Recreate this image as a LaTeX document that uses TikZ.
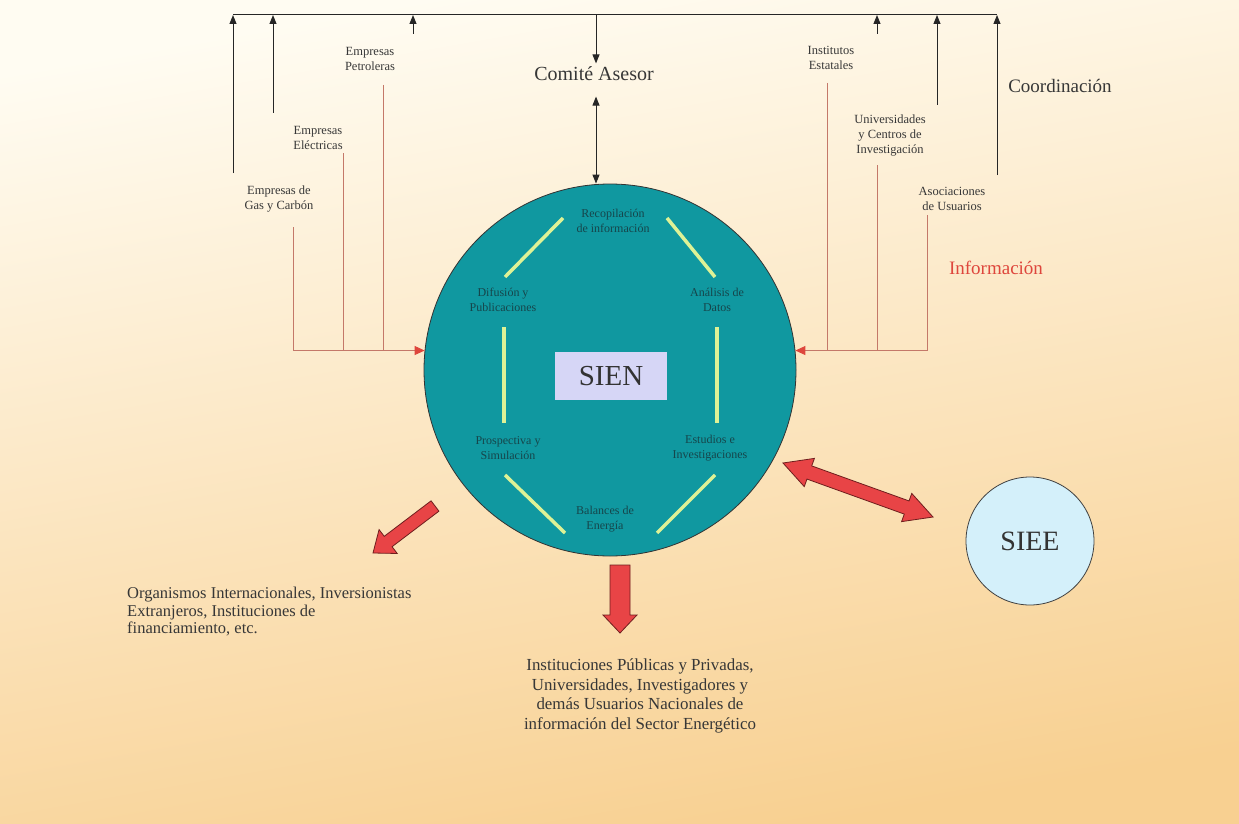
\documentclass[tikz,border=0pt]{standalone}
\usepackage{fontspec}
\setmainfont{Liberation Serif}
\usetikzlibrary{arrows.meta,calc}

\definecolor{bgtop}{RGB}{255,252,242}
\definecolor{bgmid}{RGB}{254,238,205}
\definecolor{bgbot}{RGB}{248,208,145}
\definecolor{sienteal}{RGB}{16,152,160}
\definecolor{sienbox}{RGB}{214,214,246}
\definecolor{sieeblue}{RGB}{212,240,250}
\definecolor{ringgreen}{RGB}{222,242,150}
\definecolor{infored}{RGB}{196,120,105}
\definecolor{tipred}{RGB}{222,70,60}
\definecolor{arrowred}{RGB}{232,68,70}
\definecolor{arrowedge}{RGB}{110,30,30}
\definecolor{labelgray}{RGB}{55,55,55}
\definecolor{innertext}{RGB}{22,70,75}

% block arrow: tail, tip, half shaft, half head, head length
\newcommand{\blockarrow}[5]{%
  \coordinate (ba-h) at ($(#2)!#5!(#1)$);
  \filldraw[blockarrow] ($(#1)!#3!90:(#2)$) -- ($(ba-h)!#3!90:(#2)$)
    -- ($(ba-h)!#4!90:(#2)$) -- (#2) -- ($(ba-h)!#4!-90:(#2)$)
    -- ($(ba-h)!#3!-90:(#2)$) -- ($(#1)!#3!-90:(#2)$) -- cycle;
}
% same, with a head at both ends
\newcommand{\dblarrow}[5]{%
  \coordinate (da-a) at ($(#1)!#5!(#2)$);
  \coordinate (da-b) at ($(#2)!#5!(#1)$);
  \filldraw[blockarrow] (#1) -- ($(da-a)!#4!90:(#2)$) -- ($(da-a)!#3!90:(#2)$)
    -- ($(da-b)!#3!90:(#2)$) -- ($(da-b)!#4!90:(#2)$) -- (#2)
    -- ($(da-b)!#4!-90:(#2)$) -- ($(da-b)!#3!-90:(#2)$)
    -- ($(da-a)!#3!-90:(#2)$) -- ($(da-a)!#4!-90:(#2)$) -- cycle;
}

\begin{document}
\begin{tikzpicture}
  [x=1pt,y={(0pt,-1pt)},
   lbl/.style={align=center,text=labelgray,inner sep=1pt,font=\fontsize{12.5}{15}\selectfont},
   inlbl/.style={align=center,text=innertext,inner sep=1pt,font=\fontsize{12}{15}\selectfont},
   big/.style={text=labelgray,font=\fontsize{19}{22}\selectfont},
   coordline/.style={draw=black!85,line width=1pt},
   coordarrow/.style={coordline,-{Triangle[length=9pt,width=7pt]}},
   infoline/.style={draw=infored,line width=0.8pt},
   infotip/.style={-{Triangle[length=10pt,width=9pt,color=tipred]}},
   ring/.style={draw=ringgreen,line width=3.5pt},
   blockarrow/.style={fill=arrowred,draw=arrowedge,line width=0.8pt,line join=miter}]

  \shade[top color=bgtop,middle color=bgmid,bottom color=bgbot,shading angle=10]
    (0,0) rectangle (1239,824);
  \useasboundingbox (0,0) rectangle (1239,824);

  % the system
  \node (sien) [circle,fill=sienteal,draw=black!80,line width=0.8pt,minimum size=372pt] at (610,370) {};
  \node (core) [fill=sienbox,minimum width=112pt,minimum height=48pt,text=black!80,
    font=\fontsize{29}{29}\selectfont] at (611,376) {SIEN};
  \node (siee) [circle,fill=sieeblue,draw=black!75,line width=0.8pt,minimum size=128pt,
    text=black!80,font=\fontsize{28}{28}\selectfont] at (1030,541) {SIEE};

  \node (recop) [inlbl] at (613,221) {Recopilación\\de información};
  \node (anal)  [inlbl] at (717,300) {Análisis de\\Datos};
  \node (estud) [inlbl] at (710,448) {Estudios e\\Investigaciones};
  \node (balan) [inlbl] at (605,519) {Balances de\\Energía};
  \node (prosp) [inlbl] at (508,448) {Prospectiva y\\Simulación};
  \node (difu)  [inlbl] at (503,300) {Difusión y\\Publicaciones};

  \foreach \xa/\ya/\xb/\yb in {563/218/505/277, 667/218/715/277, 504/327/504/423,
      717/327/717/423, 505/475/565/533, 715/475/657/533}
    \draw[ring] (\xa,\ya) -- (\xb,\yb);

  % participants
  \node (comite) [big,font=\fontsize{20}{22}\selectfont] at (594,74) {Comité Asesor};
  \node (coord) [big] at (1060,86) {Coordinación};
  \node (info) [big,text=tipred] at (996,268) {Información};

  \node (gas)   [lbl] at (279,199) {Empresas de\\Gas y Carbón};
  \node (elec)  [lbl] at (318,138) {Empresas\\Eléctricas};
  \node (petro) [lbl] at (370,59)  {Empresas\\Petroleras};
  \node (inst)  [lbl] at (831,58)  {Institutos\\Estatales};
  \node (univ)  [lbl] at (890,136) {Universidades\\y Centros de\\Investigación};
  \node (asoc)  [lbl] at (952,199) {Asociaciones\\de Usuarios};

  \node (extern) [anchor=west,align=left,text=labelgray,inner sep=0pt,
    font=\fontsize{16.5}{17.5}\selectfont] at (127,612)
    {Organismos Internacionales, Inversionistas\\Extranjeros, Instituciones de\\financiamiento, etc.};
  \node (users) [align=center,text=labelgray,font=\fontsize{16.9}{19.5}\selectfont] at (640,696)
    {Instituciones Públicas y Privadas,\\Universidades, Investigadores y\\demás Usuarios Nacionales de\\información del Sector Energético};

  % coordination
  \coordinate (top) at (0,15);
  \coordinate (k-gas) at (233,173);
  \coordinate (k-elec) at (273,113);
  \coordinate (k-petro) at (413,34);
  \coordinate (k-inst) at (877,34);
  \coordinate (k-univ) at (937,105);
  \coordinate (k-asoc) at (997,175);
  \coordinate (k-comite) at (596,0);
  \draw[coordline] (k-gas |- top) -- (k-asoc |- top);
  \foreach \k in {gas,elec,petro,inst,univ,asoc}
    \draw[coordarrow] (k-\k) -- (k-\k |- top);
  \draw[coordarrow] (k-comite |- top) -- (k-comite |- comite.north);
  \draw[coordline,{Triangle[length=9pt,width=7pt]}-{Triangle[length=9pt,width=7pt]},shorten <=12pt]
    (k-comite |- comite.south) -- (k-comite |- sien.north);

  % information
  \coordinate (r-gas) at (293,227);
  \coordinate (r-elec) at (343,153);
  \coordinate (r-petro) at (383,85);
  \coordinate (r-inst) at (827,83);
  \coordinate (r-univ) at (877,165);
  \coordinate (r-asoc) at (927,215);
  \foreach \r in {gas,elec,petro}
    \draw[infoline] (r-\r) -- (r-\r |- sien.174);
  \draw[infoline,infotip] (r-gas |- sien.174) -- (sien.174);
  \foreach \r in {inst,univ,asoc}
    \draw[infoline] (r-\r) -- (r-\r |- sien.6);
  \draw[infoline,infotip] (r-asoc |- sien.6) -- (sien.6);

  % outputs
  \coordinate (out-tail) at (435,506);
  \coordinate (out-tip) at (373,553);
  \blockarrow{out-tail}{out-tip}{6.5pt}{15pt}{19pt}
  \coordinate (down-tail) at (620,565);
  \coordinate (down-tip) at (620,633);
  \blockarrow{down-tail}{down-tip}{10pt}{17pt}{18pt}
  \coordinate (ex-a) at (783,463);
  \coordinate (ex-b) at (933,517);
  \dblarrow{ex-a}{ex-b}{7pt}{15pt}{28pt}

\end{tikzpicture}
\end{document}
